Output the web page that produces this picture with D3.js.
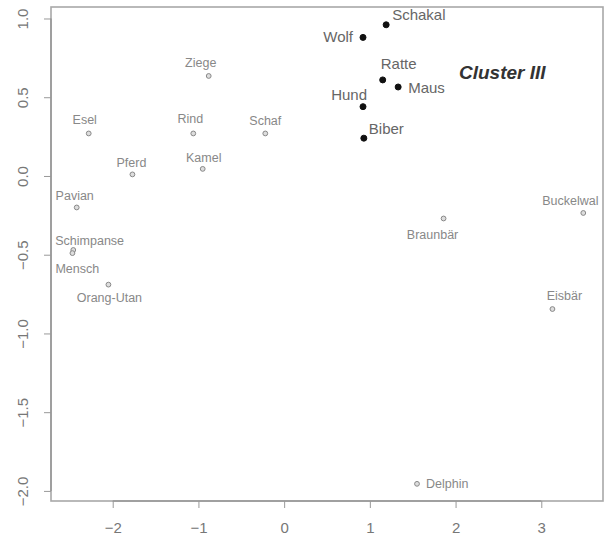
<!DOCTYPE html>
<html>
<head>
<meta charset="utf-8">
<script src="https://cdn.jsdelivr.net/npm/d3@7"></script>
<style>
  body { margin: 0; background: #fff; }
  text { font-family: "Liberation Sans", Arial, sans-serif; }
</style>
</head>
<body>
<div id="scatter"></div>
<script>
// data
var animals = ["Esel", "Pferd", "Ziege", "Rind", "Schaf", "Kamel", "Pavian", "Schimpanse", "Mensch", "Orang-Utan",
    "Wolf", "Schakal", "Ratte", "Maus", "Hund", "Biber", "Braunbär", "Buckelwal", "Eisbär", "Delphin"];
var dim1 = [-2.28, -1.77, -0.88, -1.06, -0.22, -0.95, -2.42, -2.46, -2.47, -2.05,
    0.92, 1.19, 1.15, 1.33, 0.92, 0.93, 1.86, 3.49, 3.13, 1.55];
var dim2 = [0.27, 0.01, 0.635, 0.27, 0.27, 0.045, -0.20, -0.47, -0.49, -0.69,
    0.88, 0.96, 0.61, 0.565, 0.44, 0.24, -0.27, -0.235, -0.845, -1.955];
var cluster3 = [0, 0, 0, 0, 0, 0, 0, 0, 0, 0,
    1, 1, 1, 1, 1, 1, 0, 0, 0, 0];
var xTicks = [-2, -1, 0, 1, 2, 3];
var yTicks = [1.0, 0.5, 0.0, -0.5, -1.0, -1.5, -2.0];
var clusterLabel = "Cluster III";

// label placement: [dx, dy, anchor]
var labelPlace = [
    [-4, -14, "middle"], [-1, -12, "middle"], [-8, -13, "middle"], [-3, -15, "middle"], [0, -13, "middle"],
    [1, -11, "middle"], [-2, -12, "middle"], [-18, -9, "start"], [-17, 15, "start"], [1, 13, "middle"],
    [-10, -1, "end"], [6, -10, "start"], [-2, -16, "start"], [10, 1, "start"], [4, -12, "end"],
    [5, -9, "start"], [-11, 16, "middle"], [-13, -12, "middle"], [12, -13, "middle"], [9, 0, "start"]
];

var svgWidth = 606;
var svgHeight = 543;
var box = { left: 51, top: 7, right: 603, bottom: 501 };

var svg = d3
    .select("#scatter")
    .append("svg")
    .attr("width", svgWidth)
    .attr("height", svgHeight);

//create scale functions
var xScale = d3.scaleLinear().domain([-2.72, 3.72]).range([box.left, box.right]);
var yScale = d3.scaleLinear().domain([-2.064, 1.073]).range([box.bottom, box.top]);

//plot frame
svg.append("rect")
    .attr("x", box.left)
    .attr("y", box.top)
    .attr("width", box.right - box.left)
    .attr("height", box.bottom - box.top)
    .attr("fill", "none")
    .attr("stroke", "#a8a8a8")
    .attr("stroke-width", 1.6);

//axes
var xAxis = d3.axisBottom(xScale).tickValues(xTicks).tickSize(7).tickPadding(14)
    .tickFormat(d3.format("d"));
var yAxis = d3.axisLeft(yScale).tickValues(yTicks).tickSize(7).tickPadding(16)
    .tickFormat(d3.format(".1f"));

var gx = svg.append("g")
    .attr("transform", `translate(0, ${box.bottom})`)
    .call(xAxis);
gx.select(".domain").attr("d", `M${xScale(-2)},0H${xScale(3)}`);

var gy = svg.append("g")
    .attr("transform", `translate(${box.left}, 0)`)
    .call(yAxis);
gy.select(".domain").attr("d", `M0,${yScale(-2)}V${yScale(1)}`);

[gx, gy].forEach(function(g) {
    g.select(".domain").attr("stroke", "#999").attr("stroke-width", 1.6);
    g.selectAll(".tick line").attr("stroke", "#999");
    g.selectAll(".tick text")
        .attr("fill", "#777")
        .attr("font-size", 15)
        .attr("font-family", "Liberation Sans, Arial, sans-serif");
});

// R style rotated y labels
gy.selectAll(".tick text")
    .attr("text-anchor", "middle")
    .attr("x", null)
    .attr("dy", null)
    .attr("transform", "translate(-23, 0) rotate(-90)");

var pts = animals.map(function(name, i) {
    return { name: name, x: dim1[i], y: dim2[i], c3: cluster3[i], place: labelPlace[i] };
});

//points
svg.selectAll("circle.pt")
    .data(pts)
    .join("circle")
    .attr("class", "pt")
    .attr("cx", (d) => xScale(d.x))
    .attr("cy", (d) => yScale(d.y))
    .attr("r", (d) => (d.c3 ? 3 : 2.4))
    .attr("fill", (d) => (d.c3 ? "#111" : "#ddd"))
    .attr("stroke", (d) => (d.c3 ? "#111" : "#888"))
    .attr("stroke-width", 1);

//labels
svg.selectAll("text.lab")
    .data(pts)
    .join("text")
    .attr("class", "lab")
    .attr("x", (d) => xScale(d.x) + d.place[0])
    .attr("y", (d) => yScale(d.y) + d.place[1])
    .attr("dy", "0.35em")
    .attr("text-anchor", (d) => d.place[2])
    .attr("font-size", (d) => (d.c3 ? 15 : 12.5))
    .attr("fill", (d) => (d.c3 ? "#666" : "#888"))
    .text((d) => d.name);

svg.append("text")
    .attr("x", 459)
    .attr("y", yScale(0.655))
    .attr("dy", "0.35em")
    .attr("font-size", 19)
    .attr("font-weight", "bold")
    .attr("font-style", "italic")
    .attr("fill", "#333")
    .text(clusterLabel);
</script>
</body>
</html>
